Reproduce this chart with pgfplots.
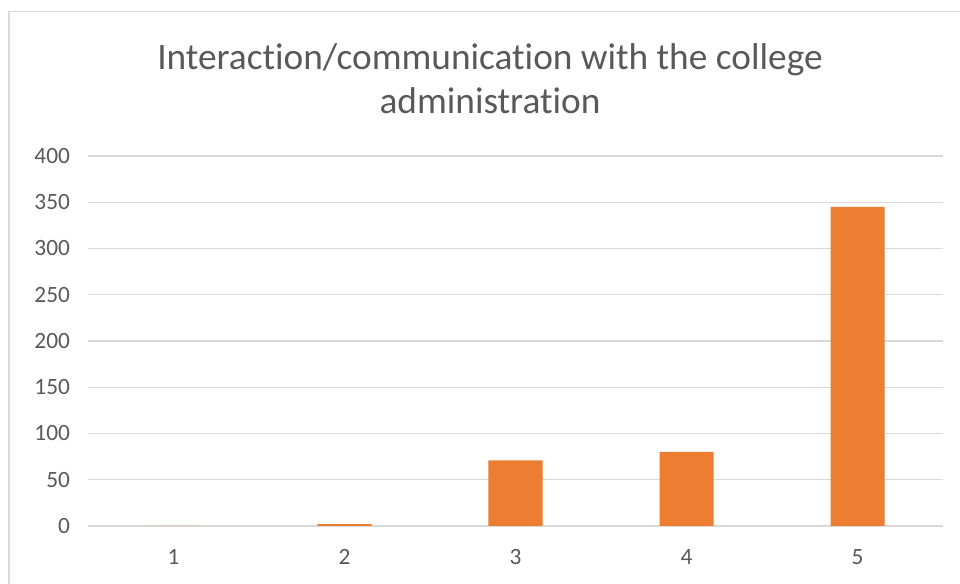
\documentclass[border=0pt]{standalone}
\usepackage{pgfplots}
\pgfplotsset{compat=1.18}
\usepackage{fontspec}
\setmainfont{Carlito}
\definecolor{txt}{HTML}{595959}
\definecolor{grd}{HTML}{D9D9D9}
\definecolor{bar}{HTML}{ED7D31}
\begin{document}
\begin{tikzpicture}
\path[use as bounding box] (0,0) rectangle (720pt,438pt);
\draw[grd, line width=1.2pt] (6.75pt,0) -- (6.75pt,429.5pt) -- (720pt,429.5pt);
\begin{axis}[
  at={(66pt,43.5pt)}, anchor=south west,
  scale only axis, width=641.25pt, height=277.5pt,
  xmin=0.5, xmax=5.5, ymin=0, ymax=400,
  ytick={0,50,...,400}, xtick={1,2,3,4,5},
  ymajorgrids, grid style={grd, line width=1.1pt},
  axis line style={draw=none}, major tick style={draw=none},
  tick label style={font=\fontsize{17.5}{20}\selectfont, text=txt},
  /pgf/number format/assume math mode=true,
  xticklabel style={yshift=-10pt},
  yticklabel style={xshift=-10pt},
  ybar, bar width=40.5pt,
]
\addplot[fill=bar, draw=none] coordinates {(1,0) (2,2) (3,71) (4,80) (5,345)};
\end{axis}
\node[text=txt, font=\addfontfeatures{Ligatures=NoCommon}\fontsize{28}{32.5}\selectfont, align=center] at (367.5pt,379pt) {Interaction/communication with the college\\administration};
\end{tikzpicture}
\end{document}
